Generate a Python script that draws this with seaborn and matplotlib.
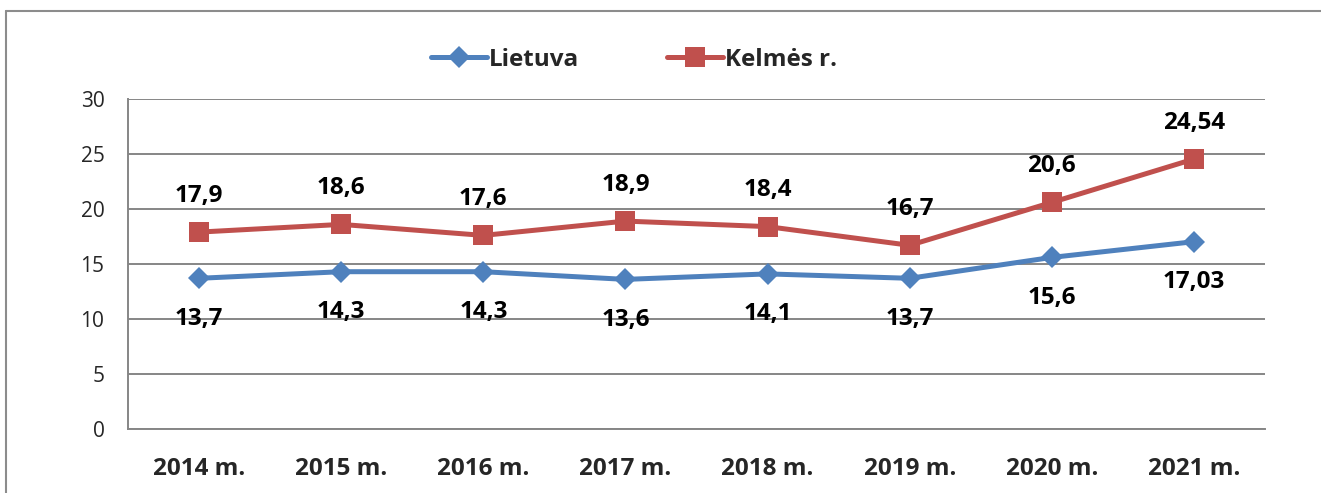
import matplotlib
matplotlib.use("Agg")
import matplotlib.pyplot as plt
import seaborn as sns
import pandas as pd
import numpy as np
from matplotlib.lines import Line2D

years = ["2014 m.", "2015 m.", "2016 m.", "2017 m.", "2018 m.", "2019 m.", "2020 m.", "2021 m."]
lietuva = [13.7, 14.3, 14.3, 13.6, 14.1, 13.7, 15.6, 17.03]
kelmes = [17.9, 18.6, 17.6, 18.9, 18.4, 16.7, 20.6, 24.54]
series_names = ["Lietuva", "Kelmės r."]

sns.set_theme(style="white")
plt.rcParams['font.family'] = ['Open Sans', 'DejaVu Sans']

blue = "#4F81BD"
red = "#C0504D"
grid = "#868686"
LBL = 17.5

fig = plt.figure(figsize=(13.21, 4.93), dpi=100)
ax = fig.add_axes([128/1321, 1-429/493, (1265-128)/1321, (429-99)/493])

idx = np.arange(len(years))
df = pd.DataFrame({"x": np.concatenate([idx, idx]),
                   "v": lietuva + kelmes,
                   "s": [series_names[0]]*len(years) + [series_names[1]]*len(years)})

sns.lineplot(data=df[df.s == series_names[0]], x="x", y="v", ax=ax, color=blue,
             lw=3.6, marker="D", markersize=11, markeredgewidth=0, legend=False, zorder=3)
sns.lineplot(data=df[df.s == series_names[1]], x="x", y="v", ax=ax, color=red,
             lw=3.6, marker="s", markersize=14, markeredgewidth=0, legend=False, zorder=4)

def fmt(v):
    return f"{v:g}".replace(".", ",")

for i, v in enumerate(lietuva):
    ax.annotate(fmt(v), (i, v), xytext=(0, -29), textcoords="offset points",
                ha="center", va="center", fontsize=LBL, fontweight="bold", color="black")
for i, v in enumerate(kelmes):
    ax.annotate(fmt(v), (i, v), xytext=(0, 26), textcoords="offset points",
                ha="center", va="center", fontsize=LBL, fontweight="bold", color="black")

ax.set_xlim(-0.5, len(years) - 0.5)
ax.set_ylim(0, 30)
ax.set_yticks(np.arange(0, 31, 5))
ax.set_xticks(np.arange(-0.5, len(years), 1.0))
ax.set_xticklabels([])
ax.set_xticks(idx, minor=True)
ax.set_xticklabels(years, minor=True, fontsize=LBL, fontweight="bold")
ax.tick_params(axis="x", which="major", length=7, width=1.3, color=grid, direction="out")
ax.tick_params(axis="x", which="minor", length=0, pad=20)
ax.tick_params(axis="y", length=6, width=1.3, color=grid, direction="out", labelsize=15, pad=11)
ax.set_xlabel("")
ax.set_ylabel("")
ax.yaxis.grid(True, color=grid, lw=1.4)
ax.set_axisbelow(True)
for s in ["top", "right"]:
    ax.spines[s].set_visible(False)
for s in ["left", "bottom"]:
    ax.spines[s].set_color(grid)
    ax.spines[s].set_linewidth(1.4)

handles = [Line2D([], [], color=blue, lw=3.6, marker="D", markersize=11, markeredgewidth=0),
           Line2D([], [], color=red, lw=3.6, marker="s", markersize=14, markeredgewidth=0)]
fig.legend(handles, series_names, loc="center", bbox_to_anchor=(634/1321, 1-60/493),
           ncol=2, frameon=False, prop={"size": LBL, "weight": "bold"},
           handlelength=2.3, handletextpad=0.1, columnspacing=3.6)

# outer chart border (left and top visible)
fig.add_artist(Line2D([6/1321, 6/1321], [0, 1-11/493], transform=fig.transFigure, color="#8c8c8c", lw=1.5))
fig.add_artist(Line2D([6/1321, 1], [1-11/493, 1-11/493], transform=fig.transFigure, color="#8c8c8c", lw=1.5))

fig.savefig("out.png", dpi=100)
